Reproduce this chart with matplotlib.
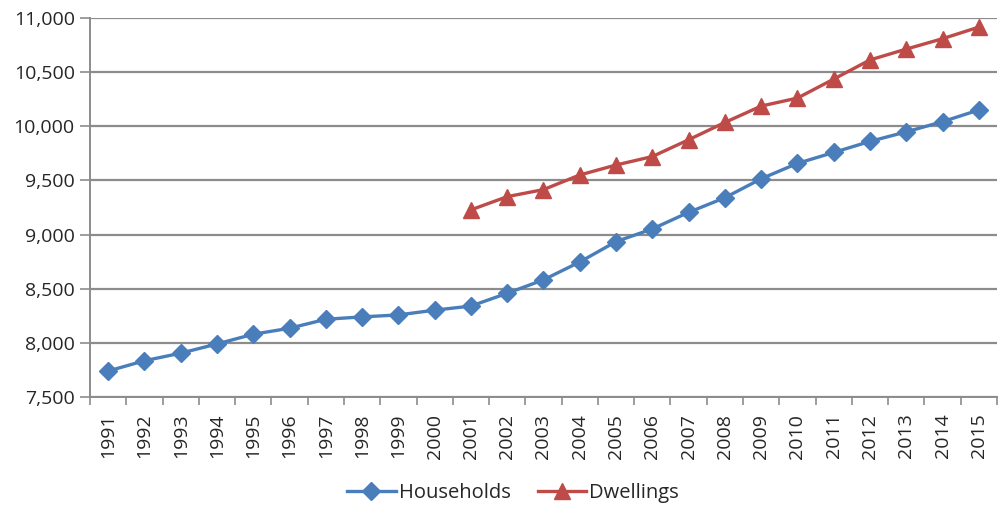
import matplotlib.pyplot as plt
import numpy as np
from matplotlib.ticker import FuncFormatter, FixedLocator

plt.rcParams['font.family'] = ['Open Sans', 'DejaVu Sans']

# Data
years = list(range(1991, 2016))
households = [7740, 7835, 7905, 7990, 8080, 8135, 8218, 8240, 8258, 8302, 8340,
              8458, 8582, 8747, 8935, 9052, 9205, 9340, 9515, 9657, 9758,
              9860, 9948, 10042, 10150]
dwelling_years = list(range(2001, 2016))
dwellings = [9228, 9350, 9415, 9550, 9642, 9720, 9875, 10035, 10186, 10260,
             10435, 10612, 10712, 10808, 10915]

blue = '#4a7ebb'
red = '#be4b48'
grid_col = '#8c8c8c'
text_col = '#262626'

fig = plt.figure(figsize=(10, 5.11), dpi=100)
ax = fig.add_axes([0.09, 0.223, 0.907, 0.742])

ax.plot(years, households, color=blue, lw=2.4, marker='D', ms=9.5,
        markeredgecolor=blue, label='Households', zorder=3)
ax.plot(dwelling_years, dwellings, color=red, lw=2.4, marker='^', ms=11.5,
        markeredgecolor=red, label='Dwellings', zorder=3)

ax.set_ylim(7500, 11000)
ax.set_yticks(np.arange(7500, 11001, 500))
ax.yaxis.set_major_formatter(FuncFormatter(lambda v, p: f'{int(v):,}'))
ax.grid(axis='y', color=grid_col, lw=1.6)
ax.set_axisbelow(True)

ax.set_xlim(1990.5, 2015.5)
ax.xaxis.set_major_locator(FixedLocator(np.arange(1990.5, 2016, 1)))
ax.xaxis.set_minor_locator(FixedLocator(years))
ax.set_xticklabels([], minor=False)
ax.set_xticklabels([str(y) for y in years], minor=True, rotation=90)
ax.tick_params(axis='x', which='major', length=6, color=grid_col, width=1.2)
ax.tick_params(axis='x', which='minor', length=0, pad=12, labelsize=14,
               labelcolor=text_col)
ax.tick_params(axis='y', length=7, color=grid_col, width=1.2, labelsize=14,
               pad=4, labelcolor=text_col)

for s in ['top', 'right']:
    ax.spines[s].set_visible(False)
for s in ['left', 'bottom']:
    ax.spines[s].set_color(grid_col)
    ax.spines[s].set_linewidth(1.4)

leg = fig.legend(loc='lower center', bbox_to_anchor=(0.513, -0.02), ncol=2,
                 frameon=False, fontsize=14.5, handlelength=2.4,
                 columnspacing=1.35, handletextpad=0.15)
for t in leg.get_texts():
    t.set_color(text_col)

fig.savefig('out.png', dpi=100)
